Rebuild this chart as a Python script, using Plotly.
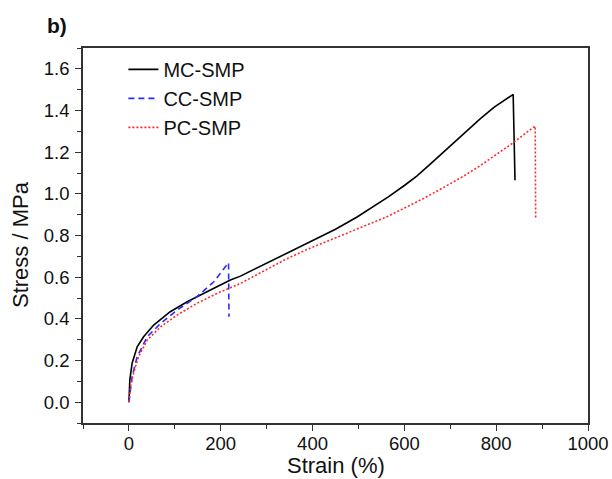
import plotly.graph_objects as go

# strain (%) / stress (MPa)
mc_strain = [0, 1, 2, 7, 18, 32, 54, 90, 127, 170, 221, 243, 280, 322, 360, 402, 450, 497, 530, 565, 600, 627, 660, 692, 730, 765, 795, 816, 830, 837, 841]
mc_stress = [0.0, 0.043, 0.107, 0.187, 0.266, 0.314, 0.37, 0.434, 0.482, 0.53, 0.586, 0.605, 0.645, 0.69, 0.733, 0.777, 0.83, 0.889, 0.935, 0.985, 1.04, 1.085, 1.15, 1.215, 1.29, 1.36, 1.415, 1.448, 1.468, 1.477, 1.065]

cc_strain = [0, 3, 7, 18, 40, 69, 105, 148, 185, 217, 218]
cc_stress = [0.0, 0.06, 0.123, 0.218, 0.314, 0.378, 0.442, 0.506, 0.578, 0.669, 0.41]

pc_strain = [0, 1, 4, 10, 21, 40, 69, 105, 148, 192, 243, 290, 341, 390, 438, 480, 526, 565, 600, 642, 685, 729, 765, 801, 837, 867, 885, 886]
pc_stress = [0.0, 0.027, 0.08, 0.139, 0.218, 0.298, 0.362, 0.418, 0.474, 0.522, 0.57, 0.625, 0.685, 0.735, 0.777, 0.815, 0.857, 0.893, 0.932, 0.978, 1.03, 1.085, 1.135, 1.19, 1.245, 1.296, 1.325, 0.881]

FONT = "Liberation Sans, Arial, sans-serif"
INK = "#111"

fig = go.Figure()
fig.add_trace(go.Scatter(x=mc_strain, y=mc_stress, mode="lines", name="MC-SMP",
                         line=dict(color="black", width=1.6)))
fig.add_trace(go.Scatter(x=cc_strain, y=cc_stress, mode="lines", name="CC-SMP",
                         line=dict(color="#2a2aff", width=1.6, dash="6px,4px")))
fig.add_trace(go.Scatter(x=pc_strain, y=pc_stress, mode="lines", name="PC-SMP",
                         line=dict(color="#ff2a2a", width=1.6, dash="2px,2px")))

axis_common = dict(showline=True, linecolor="#333", linewidth=1.5, mirror=True,
                   ticks="outside", ticklen=6, tickwidth=1.3, tickcolor="#333",
                   showgrid=False, zeroline=False, automargin=False,
                   tickfont=dict(size=18.5, color=INK, family=FONT))

fig.update_xaxes(range=[-100, 1000], dtick=200, tick0=0,
                 minor=dict(ticks="outside", ticklen=4, dtick=100, tickcolor="#333"),
                 ticklabelstandoff=-3,
                 **axis_common)
fig.update_yaxes(range=[-0.1, 1.7], dtick=0.2, tick0=0, tickformat=".1f",
                 minor=dict(ticks="outside", ticklen=4, dtick=0.1, tickcolor="#333"),
                 ticklabelstandoff=2,
                 **axis_common)

fig.update_layout(
    width=612, height=479,
    margin=dict(l=83, r=24, t=48, b=56),
    plot_bgcolor="white", paper_bgcolor="white",
    font=dict(family=FONT),
    legend=dict(x=0.08, y=0.995, xanchor="left", yanchor="top",
                bgcolor="rgba(0,0,0,0)", font=dict(size=20, color=INK, family=FONT),
                tracegroupgap=0),
    annotations=[
        dict(text="<b>b)</b>", x=-0.052, y=1.06, xref="paper", yref="paper",
             xanchor="center", yanchor="middle", showarrow=False,
             font=dict(size=21, family=FONT, color=INK)),
        dict(text="Strain (%)", x=0.5, y=-0.114, xref="paper", yref="paper",
             xanchor="center", yanchor="middle", showarrow=False,
             font=dict(size=22, family=FONT, color=INK)),
        dict(text="Stress / MPa", x=-0.125, y=0.477, xref="paper", yref="paper",
             xanchor="center", yanchor="middle", showarrow=False, textangle=-90,
             font=dict(size=22, family=FONT, color=INK)),
    ],
)

# drop the default 8px page margin so the figure sits flush in the window
fig.write_html("out.html", config={"displayModeBar": False},
               post_script="document.body.style.margin='0';")
